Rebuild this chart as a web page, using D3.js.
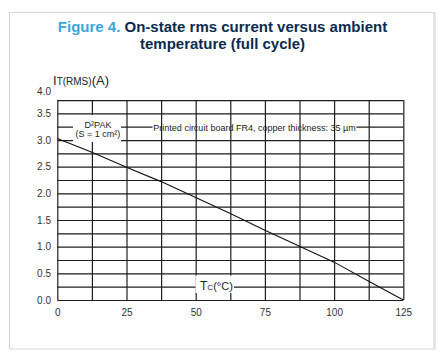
<!DOCTYPE html>
<html><head><meta charset="utf-8">
<script src="https://cdn.jsdelivr.net/npm/d3@7"></script>
<style>
body{margin:0;background:#fff}
svg{display:block;font-family:"Liberation Sans",Arial,Helvetica,sans-serif}
</style>
</head><body>
<svg id="chart" width="444" height="357"></svg>
<script>
// Data
const temperature = [0, 12.5, 25, 37.5, 50, 62.5, 75, 87.5, 100, 112.5, 125];
const currentRms  = [3.03, 2.77, 2.49, 2.22, 1.92, 1.62, 1.31, 1.01, 0.71, 0.35, 0];
const xTickLabels = [0, 25, 50, 75, 100, 125];
const yTickLabels = [0, 0.5, 1, 1.5, 2, 2.5, 3, 3.5, 4];
const xGridValues = [0, 12.5, 25, 37.5, 50, 62.5, 75, 87.5, 100, 112.5, 125];
const yGridValues = [0, 0.25, 0.5, 0.75, 1, 1.25, 1.5, 1.75, 2, 2.25, 2.5, 2.75, 3, 3.25, 3.5, 3.75];
const titleLead = "Figure 4.";
const titleRest1 = " On-state rms current versus ambient";
const titleLine2 = "temperature (full cycle)";
const packageLabel = ["D\u00B2PAK", "(S = 1 cm\u00B2)"];
const boardLabel = "Printed circuit board FR4, copper thickness: 35 \u00B5m";

const svg = d3.select("#chart");

// card
svg.append("rect").attr("x", 9.5).attr("y", 12.5).attr("width", 425).attr("height", 336.5)
  .attr("fill", "#fff").attr("stroke", "#d3d8dc").attr("stroke-width", 1);
svg.append("rect").attr("x", 433).attr("y", 12).attr("width", 3).attr("height", 337.5)
  .attr("fill", "#e3e7ea");

// title
const t1 = svg.append("text").attr("x", 222.5).attr("y", 32).attr("text-anchor", "middle")
  .attr("font-size", 15).attr("font-weight", "bold");
t1.append("tspan").attr("fill", "#3aa6dc").text(titleLead);
t1.append("tspan").attr("fill", "#0b2a4e").text(titleRest1);
svg.append("text").attr("x", 222.5).attr("y", 48.5).attr("text-anchor", "middle")
  .attr("font-size", 15).attr("font-weight", "bold").attr("fill", "#0b2a4e").text(titleLine2);

// scales
const x = d3.scaleLinear().domain([0, 125]).range([57.3, 403.3]);
const y = d3.scaleLinear().domain([0, 4]).range([300, 86.7]);
const gridColor = "#1e1e1e";

// horizontal grid
const hg = svg.append("g").attr("transform", `translate(${x(0)},0)`)
  .call(d3.axisLeft(y).tickValues(yGridValues).tickSize(-(x(125) - x(0))).tickFormat(""));
hg.select(".domain").remove();
hg.selectAll(".tick line").attr("stroke", gridColor).attr("stroke-width", 1.2);

// gap in the 3.25 line behind the board label
svg.append("rect").attr("x", 152.5).attr("y", y(3.25) - 3).attr("width", 204).attr("height", 6).attr("fill", "#fff");

// vertical grid
const vg = svg.append("g").attr("transform", `translate(0,${y(0)})`)
  .call(d3.axisBottom(x).tickValues(xGridValues).tickSize(-(y(0) - y(3.75))).tickFormat(""));
vg.select(".domain").remove();
vg.selectAll(".tick line").attr("stroke", gridColor).attr("stroke-width", 1.2);

// data curve
const line = d3.line().x((d, i) => x(temperature[i])).y(d => y(d));
svg.append("path").datum(currentRms).attr("d", line)
  .attr("fill", "none").attr("stroke", "#111").attr("stroke-width", 1.1);

// label boxes
svg.append("rect").attr("x", 73).attr("y", 115).attr("width", 48).attr("height", 27).attr("fill", "#fff");
svg.append("rect").attr("x", 195.5).attr("y", 275.5).attr("width", 38.5).attr("height", 17.5).attr("fill", "#fff");

// package label
svg.append("text").attr("x", 98).attr("y", 127.5).attr("text-anchor", "middle")
  .attr("font-size", 9).attr("fill", "#222").text(packageLabel[0]);
svg.append("text").attr("x", 98).attr("y", 137).attr("text-anchor", "middle")
  .attr("font-size", 9).attr("fill", "#222").text(packageLabel[1]);
svg.append("text").attr("x", 254.5).attr("y", 130.5).attr("text-anchor", "middle")
  .attr("font-size", 9).attr("fill", "#222").text(boardLabel);

// axis tick labels
const xa = svg.append("g").attr("transform", `translate(0,${y(0)})`)
  .call(d3.axisBottom(x).tickValues(xTickLabels).tickSize(0).tickPadding(9).tickFormat(d3.format("d")));
xa.select(".domain").remove();
xa.selectAll("text").attr("font-size", 10).attr("fill", "#333").attr("font-family", "Liberation Sans, Arial, sans-serif");

const ya = svg.append("g").attr("transform", `translate(51,0)`)
  .call(d3.axisLeft(y).tickValues(yTickLabels).tickSize(0).tickPadding(0).tickFormat(d3.format(".1f")));
ya.select(".domain").remove();
ya.selectAll("text").attr("font-size", 10).attr("fill", "#333").attr("font-family", "Liberation Sans, Arial, sans-serif")
  .attr("dy", d => d === 4 ? "0.75em" : "0.32em");

// axis titles
const yl = svg.append("text").attr("x", 53).attr("y", 85).attr("fill", "#222").attr("font-size", 13);
yl.append("tspan").text("I");
yl.append("tspan").attr("font-size", 10).text("T(RMS)");
yl.append("tspan").text("(A)");

const xl = svg.append("text").attr("x", 200).attr("y", 289.5).attr("fill", "#222").attr("font-size", 12);
xl.append("tspan").text("T");
xl.append("tspan").attr("font-size", 8).text("C");
xl.append("tspan").attr("font-size", 11).text("(\u00B0C)");
</script>
</body></html>
